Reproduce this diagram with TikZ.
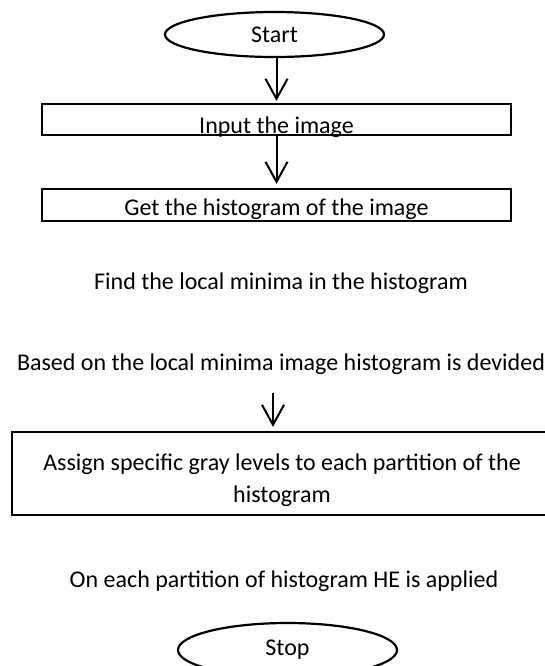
\documentclass[tikz,border=0pt]{standalone}
\usepackage{fontspec}
\setmainfont{Carlito}
\usetikzlibrary{shapes.geometric,arrows.meta}

\begin{document}
\begin{tikzpicture}[x=0.5pt,y=-0.5pt,
  every node/.style={font=\fontsize{12}{16}\selectfont},
  terminal/.style={ellipse,draw,line width=1.1pt,inner sep=0pt,minimum width=109.5pt},
  procbox/.style={rectangle,draw,line width=1.1pt,inner sep=0pt},
  flow/.style={-{Straight Barb[length=10pt,width=11pt,line width=1pt]},line width=1pt}]
\useasboundingbox (0,0) rectangle (545,666);
\node [terminal,minimum height=22.5pt] (start) at (274.5,34.5) {Start};
\node [procbox,minimum width=234.5pt,minimum height=15.5pt,text height=13.5pt,text depth=0pt] (input) at (276.5,119.5) {Input the image};
\node [procbox,minimum width=234.5pt,minimum height=16pt,text height=10pt,text depth=0pt] (hist) at (276.5,205) {Get the histogram of the image};
\node (minima) at (281,283) {Find the local minima in the histogram};
\node (divide) at (281,364) {Based on the local minima image histogram is devided};
\node [procbox,minimum width=270pt,minimum height=41.5pt,align=center] (assign) at (282,473.5) {\rule{0pt}{15.5pt}Assign specific gray levels to each partition of the\\histogram};
\node (applied) at (284,581) {On each partition of histogram HE is applied};
\node [terminal,minimum height=27pt] (stop) at (287.5,650) {Stop};
% connectors
\draw [flow,shorten >=1pt] (start.south -| input.north) -- (input.north);
\draw [flow,shorten >=2pt] (input.south) -- (hist.north);
\draw [flow,line width=0.8pt,shorten <=6pt,shorten >=2pt] ([xshift=-4pt]divide.south) -- ([xshift=-4pt]divide.south |- assign.north);
\end{tikzpicture}
\end{document}
